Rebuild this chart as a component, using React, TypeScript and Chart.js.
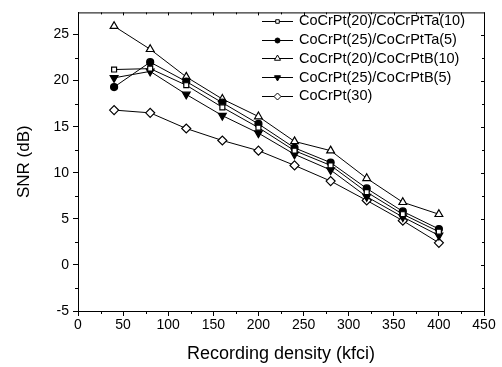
import React, { useEffect, useRef } from 'react';
import { Chart, registerables } from 'chart.js';
import { drawPoint } from 'chart.js/helpers';

Chart.register(...registerables);

const densities = [40, 80, 120, 160, 200, 240, 280, 320, 360, 400];
const snrTa10 = [21.2, 21.3, 19.5, 17.1, 14.9, 12.4, 10.8, 7.9, 5.5, 3.6];
const snrTa5 = [19.3, 22.0, 19.9, 17.6, 15.3, 12.7, 11.1, 8.3, 5.8, 3.9];
const snrB10 = [25.9, 23.4, 20.4, 18.0, 16.1, 13.4, 12.4, 9.4, 6.8, 5.5];
const snrB5 = [20.3, 21.0, 18.5, 16.2, 14.3, 12.0, 10.3, 7.4, 5.2, 3.2];
const snrPt30 = [16.8, 16.5, 14.8, 13.5, 12.4, 10.8, 9.1, 7.0, 4.8, 2.4];

const seriesLabels = [
  'CoCrPt(20)/CoCrPtTa(10)',
  'CoCrPt(25)/CoCrPtTa(5)',
  'CoCrPt(20)/CoCrPtB(10)',
  'CoCrPt(25)/CoCrPtB(5)',
  'CoCrPt(30)',
];
const seriesValues = [snrTa10, snrTa5, snrB10, snrB5, snrPt30];

const xTickValues = [0, 50, 100, 150, 200, 250, 300, 350, 400, 450];
const yTickValues = [-5, 0, 5, 10, 15, 20, 25];
const xMinorStep = 25;
const yMinorStep = 2.5;

const markerStyles = [
  { pointStyle: 'rect', rotation: 0, fill: '#ffffff', radius: 3.5 },
  { pointStyle: 'circle', rotation: 0, fill: '#000000', radius: 3.5 },
  { pointStyle: 'triangle', rotation: 0, fill: '#ffffff', radius: 4.5 },
  { pointStyle: 'triangle', rotation: 180, fill: '#000000', radius: 4.5 },
  { pointStyle: 'rectRot', rotation: 0, fill: '#ffffff', radius: 4.5 },
];

const FONT = 'Arial, "Liberation Sans", Helvetica, sans-serif';

const framePlugin = {
  id: 'frameAndMinor',
  afterDraw(chart: any) {
    const { ctx, chartArea } = chart;
    const xs = chart.scales.x;
    const ys = chart.scales.y;
    ctx.save();
    ctx.strokeStyle = '#000';
    ctx.lineWidth = 1;
    ctx.strokeRect(chartArea.left + 0.5, chartArea.top + 0.5, chartArea.right - chartArea.left, chartArea.bottom - chartArea.top);
    ctx.beginPath();
    for (let v = xs.min; v <= xs.max + 1e-6; v += xMinorStep) {
      const px = Math.round(xs.getPixelForValue(v)) + 0.5;
      const major = Math.abs(v % 50) < 1e-6;
      if (!major) {
        ctx.moveTo(px, chartArea.bottom);
        ctx.lineTo(px, chartArea.bottom + 3);
      }
      ctx.moveTo(px, chartArea.top);
      ctx.lineTo(px, chartArea.top + (major ? 3 : 2));
    }
    for (let v = -5; v <= ys.max + 1e-6; v += yMinorStep) {
      const py = Math.round(ys.getPixelForValue(v)) + 0.5;
      const major = Math.abs(v % 5) < 1e-6;
      if (!major) {
        ctx.moveTo(chartArea.left, py);
        ctx.lineTo(chartArea.left - 3, py);
      }
      ctx.moveTo(chartArea.right, py);
      ctx.lineTo(chartArea.right - (major ? 3 : 2), py);
    }
    ctx.stroke();

    // legend
    const lx0 = chartArea.left + 184;
    const lx1 = lx0 + 31;
    const lmx = (lx0 + lx1) / 2;
    const ltx = lx1 + 6;
    ctx.font = `14.5px ${FONT}`;
    ctx.textBaseline = 'middle';
    ctx.textAlign = 'left';
    ctx.fillStyle = '#000';
    seriesLabels.forEach((label, i) => {
      const y = chartArea.top + 8.5 + i * 18.7;
      ctx.beginPath();
      ctx.moveTo(lx0, Math.round(y) + 0.5);
      ctx.lineTo(lx1, Math.round(y) + 0.5);
      ctx.strokeStyle = '#000';
      ctx.lineWidth = 1;
      ctx.stroke();
      const m = markerStyles[i];
      ctx.fillStyle = m.fill;
      ctx.strokeStyle = '#000';
      ctx.lineWidth = 1;
      drawPoint(ctx, { pointStyle: m.pointStyle as any, rotation: m.rotation, radius: m.radius - 1, borderWidth: 1 }, lmx, Math.round(y) + 0.5);
      ctx.fillStyle = '#000';
      ctx.fillText(label, ltx, y + 0.5);
    });
    ctx.restore();
  },
};

export default function App() {
  const ref = useRef<HTMLCanvasElement | null>(null);
  useEffect(() => {
    if (!ref.current) return;
    const datasets = seriesValues.map((vals, i) => {
      const m = markerStyles[i];
      return {
        label: seriesLabels[i],
        data: densities.map((d, j) => ({ x: d, y: vals[j] })),
        borderColor: '#000',
        borderWidth: 1,
        backgroundColor: m.fill,
        pointStyle: m.pointStyle,
        pointRotation: m.rotation,
        pointRadius: m.radius,
        pointBackgroundColor: m.fill,
        pointBorderColor: '#000',
        pointBorderWidth: 1.2,
        fill: false,
        tension: 0,
      };
    });
    const chart = new Chart(ref.current, {
      type: 'line',
      data: { datasets: datasets as any },
      options: {
        animation: false,
        responsive: false,
        devicePixelRatio: 1,
        layout: { padding: { top: 12, right: 18, left: 0, bottom: 0 } },
        plugins: { legend: { display: false }, tooltip: { enabled: false } },
        scales: {
          x: {
            type: 'linear',
            min: 0,
            max: 450,
            afterBuildTicks: (s: any) => {
              s.ticks = xTickValues.map((v) => ({ value: v }));
            },
            afterFit: (s: any) => {
              s.height = 56;
            },
            ticks: { color: '#000', font: { family: FONT, size: 14 }, padding: 1, maxRotation: 0, autoSkip: false },
            grid: { drawOnChartArea: false, drawTicks: true, tickLength: 5, color: '#000', lineWidth: 1 },
            border: { display: true, color: '#000', width: 1 },
            title: {
              display: true,
              text: 'Recording density (kfci)',
              color: '#000',
              font: { family: FONT, size: 18 },
              padding: { top: 0, bottom: 2 },
            },
          },
          y: {
            type: 'linear',
            min: -5,
            max: 27.4,
            afterBuildTicks: (s: any) => {
              s.ticks = yTickValues.map((v) => ({ value: v }));
            },
            afterFit: (s: any) => {
              s.width = 78;
            },
            ticks: { color: '#000', font: { family: FONT, size: 14 }, padding: 4, autoSkip: false },
            grid: { drawOnChartArea: false, drawTicks: true, tickLength: 5, color: '#000', lineWidth: 1 },
            border: { display: true, color: '#000', width: 1 },
            title: {
              display: true,
              text: 'SNR (dB)',
              color: '#000',
              font: { family: FONT, size: 17 },
              padding: { top: 14, bottom: 0 },
            },
          },
        },
      },
      plugins: [framePlugin as any],
    });
    return () => chart.destroy();
  }, []);
  return (
    <div style={{ position: 'fixed', left: 0, top: 0, width: 502, height: 367, background: '#fff' }}>
      <canvas ref={ref} width={502} height={367} style={{ display: 'block', width: 502, height: 367 }} />
    </div>
  );
}
